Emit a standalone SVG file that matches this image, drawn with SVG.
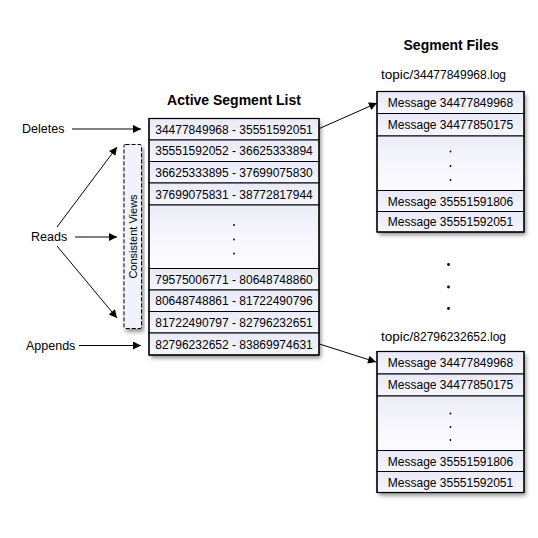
<svg xmlns="http://www.w3.org/2000/svg" width="538" height="538" viewBox="0 0 538 538">
<defs>
<linearGradient id="cell" x1="0" y1="0" x2="0" y2="1">
<stop offset="0" stop-color="#e8e8f8"/>
<stop offset="1" stop-color="#f6f6fd"/>
</linearGradient>
<linearGradient id="gap" x1="0" y1="0" x2="0" y2="1">
<stop offset="0" stop-color="#ececf8"/>
<stop offset="0.5" stop-color="#f6f6fc"/>
<stop offset="1" stop-color="#fbfbff"/>
</linearGradient>
<filter id="shadow" x="-10%" y="-10%" width="130%" height="130%">
<feDropShadow dx="2" dy="3" stdDeviation="2" flood-color="#000" flood-opacity="0.45"/>
</filter>
<marker id="arr" viewBox="0 0 10 10" refX="10" refY="5" markerWidth="10" markerHeight="8" markerUnits="userSpaceOnUse" orient="auto">
<path d="M0,0 L10,5 L0,10 z" fill="#000"/>
</marker>
</defs>
<style>
.t{font-family:"Liberation Sans",Arial,sans-serif;font-size:12px;fill:#000}
.c{text-anchor:middle}
.h{font-family:"Liberation Sans",Arial,sans-serif;font-size:14px;font-weight:bold;fill:#000;text-anchor:middle}
.lbl{font-family:"Liberation Sans",Arial,sans-serif;font-size:12.5px;fill:#000}
.cell{fill:url(#cell);stroke:#000;stroke-width:1}
.gapc{fill:url(#gap);stroke:#000;stroke-width:1}
.box{fill:none;stroke:#000;stroke-width:1.2}
.con{stroke:#000;stroke-width:1;fill:none;marker-end:url(#arr)}
</style>
<rect width="538" height="538" fill="#fff"/>

<text class="h" x="234" y="105">Active Segment List</text>
<text class="h" x="451" y="50">Segment Files</text>

<g id="active-list">
<rect x="149" y="118.5" width="170" height="236.5" fill="#fff" filter="url(#shadow)"/>
<rect class="cell" x="149" y="118.5" width="170" height="21.5"/>
<rect class="cell" x="149" y="140" width="170" height="21.5"/>
<rect class="cell" x="149" y="161.5" width="170" height="21.5"/>
<rect class="cell" x="149" y="183" width="170" height="22"/>
<rect class="gapc" x="149" y="205" width="170" height="63.5"/>
<rect class="cell" x="149" y="268.5" width="170" height="21.5"/>
<rect class="cell" x="149" y="290" width="170" height="21.5"/>
<rect class="cell" x="149" y="311.5" width="170" height="21.5"/>
<rect class="cell" x="149" y="333" width="170" height="22"/>
<rect class="box" x="149" y="118.5" width="170" height="236.5"/>
<text class="t c" x="234" y="133.5">34477849968 - 35551592051</text>
<text class="t c" x="234" y="155">35551592052 - 36625333894</text>
<text class="t c" x="234" y="176.5">36625333895 - 37699075830</text>
<text class="t c" x="234" y="198.5">37699075831 - 38772817944</text>
<circle cx="234" cy="225" r="0.9" fill="#000"/>
<circle cx="234" cy="239.5" r="0.9" fill="#000"/>
<circle cx="234" cy="253.5" r="0.9" fill="#000"/>
<text class="t c" x="234" y="283.5">79575006771 - 80648748860</text>
<text class="t c" x="234" y="305">80648748861 - 81722490796</text>
<text class="t c" x="234" y="326.5">81722490797 - 82796232651</text>
<text class="t c" x="234" y="348.5">82796232652 - 83869974631</text>
</g>

<g id="consistent-views">
<rect x="124" y="144.5" width="17.5" height="184" rx="1.5" fill="#f2f2fb" stroke="#000" stroke-width="1" stroke-dasharray="4,2" filter="url(#shadow)"/>
<text class="t c" style="font-size:11px" transform="translate(136.5,236.5) rotate(-90)">Consistent Views</text>
</g>

<g id="file1">
<text class="t" x="381" y="79"><tspan style="font-size:13.5px">topic/</tspan>34477849968.log</text>
<rect x="377" y="91.5" width="147" height="140.5" fill="#fff" filter="url(#shadow)"/>
<rect class="cell" x="377" y="91.5" width="147" height="22"/>
<rect class="cell" x="377" y="113.5" width="147" height="22.5"/>
<rect class="gapc" x="377" y="136" width="147" height="54.5"/>
<rect class="cell" x="377" y="190.5" width="147" height="21"/>
<rect class="cell" x="377" y="211.5" width="147" height="20.5"/>
<rect class="box" x="377" y="91.5" width="147" height="140.5"/>
<text class="t c" x="450.5" y="107">Message 34477849968</text>
<text class="t c" x="450.5" y="129">Message 34477850175</text>
<circle cx="450.5" cy="151.5" r="0.9" fill="#000"/>
<circle cx="450.5" cy="166" r="0.9" fill="#000"/>
<circle cx="450.5" cy="180" r="0.9" fill="#000"/>
<text class="t c" x="450.5" y="205.5">Message 35551591806</text>
<text class="t c" x="450.5" y="226">Message 35551592051</text>
</g>

<g id="ellipsis">
<circle cx="448.5" cy="264.5" r="1.4" fill="#000"/>
<circle cx="448.5" cy="287" r="1.4" fill="#000"/>
<circle cx="448.5" cy="308.5" r="1.4" fill="#000"/>
</g>

<g id="file2">
<text class="t" x="381" y="341"><tspan style="font-size:13.5px">topic/</tspan>82796232652.log</text>
<rect x="377" y="351.5" width="147" height="141" fill="#fff" filter="url(#shadow)"/>
<rect class="cell" x="377" y="351.5" width="147" height="22.5"/>
<rect class="cell" x="377" y="374" width="147" height="22"/>
<rect class="gapc" x="377" y="396" width="147" height="54.5"/>
<rect class="cell" x="377" y="450.5" width="147" height="21"/>
<rect class="cell" x="377" y="471.5" width="147" height="21"/>
<rect class="box" x="377" y="351.5" width="147" height="141"/>
<text class="t c" x="450.5" y="367">Message 34477849968</text>
<text class="t c" x="450.5" y="389">Message 34477850175</text>
<circle cx="450.5" cy="413.5" r="0.9" fill="#000"/>
<circle cx="450.5" cy="427" r="0.9" fill="#000"/>
<circle cx="450.5" cy="440" r="0.9" fill="#000"/>
<text class="t c" x="450.5" y="465.5">Message 35551591806</text>
<text class="t c" x="450.5" y="486.5">Message 35551592051</text>
</g>

<g id="label-deletes"><text class="lbl" x="22" y="132.5">Deletes</text></g>
<g id="label-reads"><text class="lbl" x="31" y="241">Reads</text></g>
<g id="label-appends"><text class="lbl" x="26" y="350">Appends</text></g>

<g id="connectors">
<line class="con" x1="72" y1="129" x2="141" y2="129"/>
<line class="con" x1="57" y1="227" x2="117" y2="147"/>
<line class="con" x1="75" y1="237" x2="117" y2="237"/>
<line class="con" x1="57" y1="246" x2="117" y2="318"/>
<line class="con" x1="79" y1="345.5" x2="141" y2="345.5"/>
<line class="con" x1="319.5" y1="128.5" x2="377" y2="103"/>
<line class="con" x1="319.5" y1="344" x2="376" y2="362"/>
</g>
</svg>
